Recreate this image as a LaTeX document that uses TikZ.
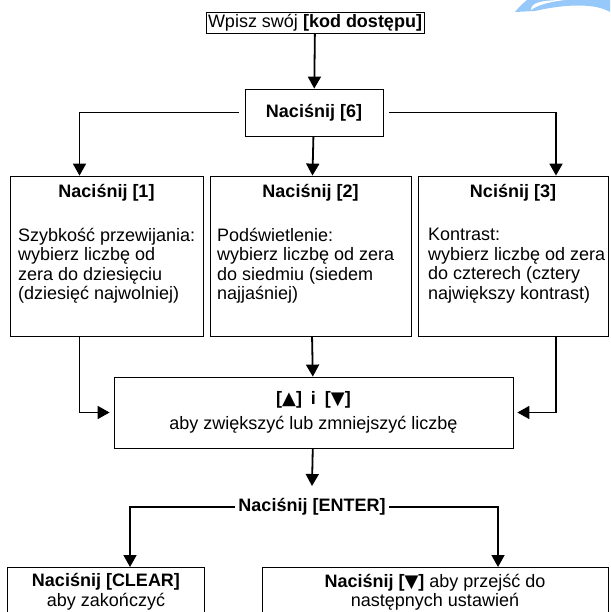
\documentclass[tikz,border=0pt]{standalone}
\usepackage{fontspec}
\setmainfont{Liberation Sans}
\newfontfamily\symfont{DejaVu Sans}
\newcommand{\tup}{{\symfont ▲}}
\newcommand{\tdown}{{\symfont ▼}}
\usetikzlibrary{arrows.meta,positioning}
\definecolor{logoblue}{RGB}{150,200,250}

\begin{document}
\begin{tikzpicture}[x=1pt,y=-1pt,font=\fontsize{18}{19.5}\selectfont,
  box/.style={draw,line width=0.8pt,inner sep=0pt},
  link/.style={line width=1.8pt},
  go/.style={link,-{Triangle[width=13pt,length=12pt]}},
  title/.style={font=\fontsize{18}{19.5}\selectfont\bfseries},
  body/.style={align=left,anchor=north west,inner sep=0pt}]
\clip (0,0) rectangle (610,612);
% logo corner
\fill[logoblue] (515,12) .. controls (520,6) .. (527,0) -- (610,0) -- (610,12)
  .. controls (595,3) and (565,4) .. (535,11) -- cycle;
\fill[white] (531,10) .. controls (531,3) and (540,0) .. (565,0)
  .. controls (548,2) and (538,5) .. cycle;
% boxes
\node[box,inner sep=2pt] (code) at (315,22.5) {Wpisz swój \textbf{[kod dostępu]}};
\node[box,title,minimum width=138pt,minimum height=47pt] (six) at (314,112.5) {Naciśnij [6]};
\node[box,minimum width=193pt,minimum height=160pt] (one) at (106.5,256) {};
\node[box,minimum width=201pt,minimum height=160pt] (two) at (310.5,256) {};
\node[box,minimum width=190pt,minimum height=160pt] (three) at (513,256) {};
\node[title] (t1) at ([yshift=-17pt]one.north) {Naciśnij [1]};
\node[title] (t2) at ([yshift=-17pt]two.north) {Naciśnij [2]};
\node[title] (t3) at ([yshift=-17pt]three.north) {Nciśnij [3]};
\node[body] (b1) at (18,228) {Szybkość przewijania:\\wybierz liczbę od\\zera do dziesięciu\\(dziesięć najwolniej)};
\node[body] (b2) at (217,228) {Podświetlenie:\\wybierz liczbę od zera\\do siedmiu (siedem\\najjaśniej)};
\node[body] (b3) at (428,228) {Kontrast:\\wybierz liczbę od zera\\do czterech (cztery\\największy kontrast)};
\node[box,align=center,minimum width=399pt,minimum height=71pt] (mid) at (313.5,412.5)
  {\textbf{[\tup]\enspace i\enspace[\tdown]}\\[6pt]aby zwiększyć lub zmniejszyć liczbę};
\node[title] (enter) at (312,507) {Naciśnij [ENTER]};
\node[box,anchor=north,minimum width=197pt,minimum height=80pt] (clear) at (106,567) {};
\node[box,anchor=north,minimum width=346pt,minimum height=80pt] (next) at (435,567) {};
\node[align=center] (tc) at (106,592) {\textbf{Naciśnij [CLEAR]}\\aby zakończyć};
\node[align=center] (tn) at (435,592) {\textbf{Naciśnij [\tdown]} aby przejść do\\następnych ustawień};
% connectors
\draw[go] (code) -- (six);
\draw[go] (six) -- (two);
\draw[go] ([xshift=-6pt]six.west) -| ([xshift=-27pt]one.north);
\draw[go] ([xshift=6pt]six.east) -| ([xshift=43pt]three.north);
\draw[go] (two) -- (mid);
\draw[go] ([xshift=-27pt]one.south) |- ([xshift=-4pt]mid.west);
\draw[go] ([xshift=43pt]three.south) |- ([xshift=4pt]mid.east);
\draw[go] (mid) -- ([yshift=9pt]enter.north);
\draw[go] (enter.west) -| ([xshift=24pt]clear.north);
\draw[go] (enter.east) -| ([xshift=63pt]next.north);
\end{tikzpicture}
\end{document}
